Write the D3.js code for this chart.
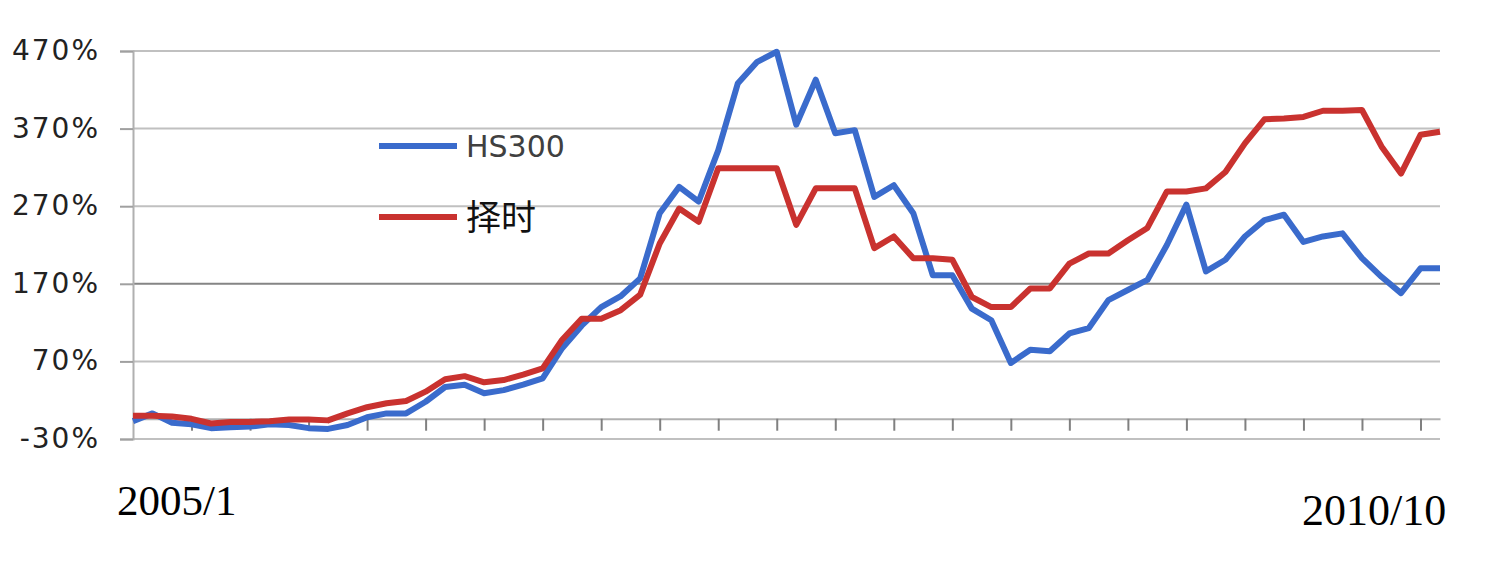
<!DOCTYPE html>
<html lang="zh">
<head>
  <meta charset="UTF-8">
  <title>HS300 与 择时</title>
  <script src="https://d3js.org/d3.v7.min.js"></script>
  <style>
    body { margin: 0; background: #fff; }
  </style>
</head>
<body>
  <svg id="chart" width="1490" height="565"></svg>

  <script>
    // cumulative return, % (68 points, 2005/1 .. 2010/10)
    const hs300 = [
      -7, 3, -9, -11, -16, -15, -14, -11, -12, -16,
      -17, -12, -2, 3, 3, 18, 37, 40, 29, 33,
      40, 48, 87, 116, 140, 154, 177, 261, 295, 276,
      342, 428, 456, 469, 375, 433, 364, 368, 282, 297,
      261, 181, 181, 138, 123, 68, 85, 83, 106, 113,
      149, 162, 175, 220, 272, 186, 201, 231, 252, 259,
      224, 231, 235, 203, 179, 158, 190, 190
    ];
    const timing = [
      0, 0, -1, -4, -10, -8, -8, -7, -5, -5,
      -6, 3, 11, 16, 19, 31, 47, 51, 43, 46,
      53, 61, 98, 125, 125, 136, 156, 222, 267, 250,
      319, 319, 319, 319, 246, 293, 293, 293, 216, 231,
      203, 203, 201, 153, 140, 140, 164, 164, 196, 209,
      209, 226, 242, 289, 289, 293, 314, 351, 382, 383,
      385, 393, 393, 394, 347, 312, 362, 366
    ];
    const seriesNames = ["HS300", "择时"];
    const seriesColors = ["#3a6bcc", "#c9322f"];
    const yTicks = [-30, 70, 170, 270, 370, 470];
    const xLabels = ["2005/1", "2010/10"];

    const svg = d3.select("#chart");
    const plotLeft = 133, plotRight = 1440, plotTop = 51, plotBottom = 439;

    const x = d3.scalePoint()
      .domain(d3.range(hs300.length))
      .range([plotLeft, plotRight]);

    const y = d3.scaleLinear()
      .domain([-30, 470])
      .range([plotBottom, plotTop]);

    // gridlines
    svg.append("g")
      .selectAll("line")
      .data(yTicks)
      .join("line")
      .attr("x1", plotLeft)
      .attr("x2", plotRight)
      .attr("y1", d => y(d))
      .attr("y2", d => y(d))
      .attr("stroke", d => d === 170 ? "#858585" : "#c0c0c0")
      .attr("stroke-width", 2);

    // value axis
    const yAxis = svg.append("g")
      .attr("transform", `translate(${plotLeft},0)`)
      .call(d3.axisLeft(y).tickValues(yTicks).tickSize(13).tickFormat(d => d + "%"));
    yAxis.select(".domain").attr("stroke", "#b0b0b0").attr("stroke-width", 2);
    yAxis.selectAll(".tick line").attr("stroke", "#a0a0a0").attr("stroke-width", 2);
    yAxis.selectAll(".tick text")
      .attr("x", -33)
      .attr("dy", "0.3em")
      .attr("fill", "#222")
      .attr("font-family", "DejaVu Sans")
      .attr("font-size", 28)
      .attr("letter-spacing", 2);

    // category axis, crossing at 0
    const xAxis = svg.append("g")
      .attr("transform", `translate(0,${y(0) + 3})`)
      .call(d3.axisBottom(x)
        .tickValues(x.domain().filter(i => i % 3 === 0 && i > 0))
        .tickSize(12)
        .tickSizeOuter(0)
        .tickFormat(""));
    xAxis.select(".domain").attr("stroke", "#b0b0b0").attr("stroke-width", 2);
    xAxis.selectAll(".tick line").attr("stroke", "#808080").attr("stroke-width", 2);

    const line = d3.line()
      .x((d, i) => x(i))
      .y(d => y(d));

    [hs300, timing].forEach((s, k) => {
      svg.append("path")
        .datum(s)
        .attr("d", line)
        .attr("fill", "none")
        .attr("stroke", seriesColors[k])
        .attr("stroke-width", 6)
        .attr("stroke-linejoin", "round");
    });

    // legend
    const legendY = [146, 217];
    seriesNames.forEach((name, k) => {
      svg.append("line")
        .attr("x1", 379)
        .attr("x2", 457)
        .attr("y1", legendY[k])
        .attr("y2", legendY[k])
        .attr("stroke", seriesColors[k])
        .attr("stroke-width", 6);
      svg.append("text")
        .attr("x", 466)
        .attr("y", legendY[k])
        .attr("dy", "0.36em")
        .attr("fill", k === 0 ? "#404040" : "#111")
        .attr("font-family", k === 0 ? "DejaVu Sans" : "Noto Sans CJK SC")
        .attr("font-size", k === 0 ? 30 : 35)
        .text(name);
    });

    // first and last date labels
    svg.append("text")
      .attr("x", 117)
      .attr("y", 515)
      .attr("font-family", "Liberation Serif")
      .attr("font-size", 43)
      .attr("fill", "#000")
      .text(xLabels[0]);
    svg.append("text")
      .attr("x", 1302)
      .attr("y", 525)
      .attr("font-family", "Liberation Serif")
      .attr("font-size", 44)
      .attr("fill", "#000")
      .text(xLabels[1]);
  </script>
</body>
</html>
